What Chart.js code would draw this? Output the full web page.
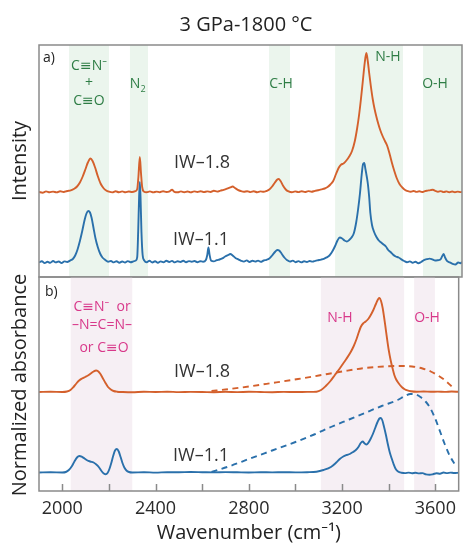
<!DOCTYPE html>
<html><head><meta charset="utf-8">
<script src="https://cdn.jsdelivr.net/npm/chart.js@4"></script>
<style>
html,body{margin:0;padding:0;background:#fff;}
#wrap{position:relative;width:463px;height:546px;overflow:hidden;}
canvas{position:absolute;left:0;top:0;}
</style></head><body>
<div id="wrap"><canvas id="ca" width="463" height="546" style="width:463px;height:546px"></canvas><canvas id="cb" width="463" height="546" style="width:463px;height:546px"></canvas></div>
<script>
// ---- axis ----
const xMin = 1900, xMax = 3700;
const tickLabels = [2000, 2400, 2800, 3200, 3600];
const minorTicks = [2000, 2200, 2400, 2600, 2800, 3000, 3200, 3400, 3600];
const yMaxA = 232, yMaxB = 214;

// ---- panel a: Raman (offset intensity, arb. units) ----
const wnA18 = [1900,1915,1930,1945,1960,1975,1990,2005,2020,2035,2050,2062,2074,2086,2098,2108,2119,2128,2138,2150,2162,2174,2186,2198,2212,2226,2240,2254,2268,2282,2296,2310,2318,2323,2329,2334,2339,2346,2358,2372,2386,2400,2414,2428,2442,2456,2466,2476,2490,2504,2518,2532,2546,2560,2574,2588,2602,2616,2630,2644,2658,2672,2686,2700,2714,2724,2734,2746,2758,2772,2786,2800,2814,2828,2842,2856,2868,2880,2892,2904,2914,2920,2928,2938,2950,2962,2976,2990,3004,3018,3032,3046,3060,3074,3088,3102,3116,3128,3140,3152,3164,3176,3186,3196,3208,3220,3232,3244,3254,3262,3270,3278,3286,3293,3299,3305,3312,3320,3328,3336,3344,3352,3362,3372,3382,3392,3402,3412,3422,3434,3446,3458,3470,3482,3494,3506,3518,3530,3542,3554,3566,3576,3586,3598,3610,3622,3634,3646,3658,3670,3682,3694,3700];
const intA18 = [85.0,84.3,85.6,84.7,85.4,84.6,85.8,85.0,86.0,86.6,88.2,90.5,94.5,100.5,108.0,114.5,118.5,116.0,110.0,101.0,93.5,89.0,86.5,85.3,84.6,85.7,84.8,85.6,84.7,85.5,85.0,85.8,88,100,120,104,90,85.5,84.8,85.6,84.6,85.4,84.8,85.8,85.0,85.7,87.3,85.2,84.7,85.6,84.8,85.5,84.6,85.6,85.0,85.8,84.9,85.6,85.0,86.2,85.4,86.4,87.2,88.3,89.6,90.5,89.0,87.2,86.0,85.2,85.8,84.9,85.7,84.8,85.6,85.2,86.0,87.4,90.5,94.5,97.5,98.0,96.0,91.5,87.5,85.6,84.8,85.6,84.9,85.8,85.0,85.9,85.2,86.2,86.8,87.6,88.5,90.0,92.5,96,103,109.5,112.5,113.5,116.5,120.5,126,136,149,162,178,196,214,224,216,204,191,178,168,160,153,147,141,136,131,123,114,106,99,93,89.5,87,85.8,85.2,86.0,85.1,85.8,85.0,85.9,86.4,86.9,87.2,86.2,85.3,85.9,84.9,85.6,84.8,85.5,84.7,85.4,84.9,85.2];

const wnA11 = [1900,1912,1924,1936,1948,1960,1972,1984,1996,2008,2020,2032,2044,2054,2064,2074,2084,2094,2102,2110,2117,2124,2132,2140,2150,2160,2170,2182,2194,2206,2218,2230,2242,2254,2266,2278,2290,2302,2312,2318,2322,2326,2329,2332,2336,2341,2348,2358,2370,2382,2394,2406,2418,2430,2442,2454,2466,2478,2490,2502,2514,2526,2538,2550,2562,2574,2586,2598,2610,2616,2621,2626,2632,2644,2656,2668,2680,2692,2704,2714,2724,2736,2748,2760,2772,2784,2796,2808,2820,2832,2844,2856,2868,2880,2892,2904,2914,2922,2932,2944,2956,2968,2980,2992,3004,3016,3028,3040,3052,3064,3076,3088,3100,3112,3124,3136,3148,3160,3170,3180,3190,3200,3210,3220,3230,3240,3250,3258,3266,3273,3279,3284,3289,3295,3300,3305,3310,3317,3326,3336,3346,3356,3366,3376,3386,3396,3406,3418,3430,3442,3454,3466,3478,3490,3502,3514,3526,3538,3550,3562,3574,3586,3598,3608,3616,3622,3628,3636,3648,3660,3672,3684,3694,3700];
const intA11 = [14.5,15.8,13.9,15.2,14.2,16.0,14.6,15.5,14.0,15.6,15.0,16.4,18.0,21.5,27.5,36,46,57,63.5,66,64.5,59,49,39,30,23.5,19.5,17.0,15.2,16.0,14.6,15.8,14.2,15.5,14.4,15.9,14.8,15.6,16.5,20,45,80,95,80,45,22,16.5,14.8,16.2,14.5,15.8,14.2,15.6,14.8,16.3,15.0,16.1,14.6,15.8,15.0,16.2,14.8,15.9,15.2,16.0,14.7,15.8,15.3,17.0,22,29.5,22,16.5,15.6,16.8,17.5,18.6,20.5,21.8,23.0,21.5,19.0,17.6,16.2,15.4,16.6,15.0,16.2,15.4,16.4,15.2,16.5,17.2,18.5,21.5,25.0,27.0,26.5,23.5,19.5,16.8,15.4,16.4,14.8,15.9,14.6,15.7,15.0,16.0,15.4,16.2,16.8,17.4,18.2,19.6,21.5,25.5,31,36.5,39.5,38.5,36.5,35.5,37.0,39.5,44,55,68,84,102,113,114,108,100,92,80,64,52,45,40,36.5,34.5,32.5,30.5,27.0,25.0,22.5,20.5,19.5,17.6,16.0,14.8,15.6,14.2,15.3,13.8,15.0,16.8,17.8,18.4,17.6,16.5,16.8,17.4,21.0,23.0,19.5,16.2,14.6,13.2,12.5,14.5,13.8,15.0];

// ---- panel b: IR (offset normalized absorbance, arb. units) ----
const wnB18 = [1900,1950,2000,2020,2035,2048,2060,2072,2085,2098,2110,2122,2134,2145,2152,2162,2172,2184,2196,2208,2220,2235,2260,2300,2350,2400,2450,2500,2550,2600,2650,2700,2750,2800,2850,2900,2950,3000,3050,3090,3110,3130,3150,3169,3185,3200,3218,3237,3250,3262,3272,3280,3290,3301,3312,3323,3334,3345,3355,3361,3367,3374,3380,3386,3393,3400,3408,3416,3424,3432,3440,3448,3458,3468,3480,3495,3520,3550,3580,3610,3640,3670,3700];
const absB18 = [99,99.2,99,99.5,101,104,107.5,110.5,112.5,114,115.5,117.5,119.5,120.5,120,117.5,113.5,108.5,104,101.5,100,99.3,99,98.8,99.2,99,99.3,98.9,99.1,99,98.8,99.1,98.9,99.2,99,98.8,99.1,99,99.1,99.3,101,105,110,116,121,126,132,139,145,152,159,164,167.5,169.5,172,176,181,187,192,193,190,183,174,164,152,141,131,123,116,111.5,108.5,106,103.5,101.8,100.6,99.8,99.3,99.5,99.2,99.4,99.1,99.5,99.2];
const wnB18fit = [2640,2700,2800,2900,3011,3100,3200,3297,3380,3440,3500,3545,3580,3615,3645,3672];
const absB18fit = [100,101.5,104.5,108,112,115.5,119.5,123,124.5,125,124.5,122.5,119.5,115,110,104];

const wnB11 = [1900,1950,2000,2015,2028,2040,2052,2063,2073,2083,2095,2108,2120,2134,2146,2158,2168,2178,2186,2194,2202,2210,2218,2226,2234,2242,2250,2258,2266,2275,2286,2300,2350,2400,2450,2500,2550,2600,2650,2700,2750,2800,2850,2900,2950,3000,3050,3090,3120,3152,3175,3190,3205,3220,3233,3247,3259,3270,3280,3288,3297,3305,3312,3322,3332,3342,3352,3360,3366,3372,3380,3388,3396,3404,3412,3420,3430,3440,3455,3470,3485,3500,3515,3530,3545,3560,3575,3590,3605,3620,3635,3650,3665,3680,3700];
const absB11 = [18.5,18.7,18.5,19,21,24.5,29.5,33.5,35,34.3,32.5,30.5,29.5,28.5,26.5,23.5,20,17.5,16.8,18,22,28,35,40.5,42,39.5,34,28,23.5,20.5,19,18.5,18.8,18.4,18.8,18.7,19,18.8,18.6,18.9,18.7,18.5,18.8,18.6,18.8,18.6,18.8,19.3,21,24,28.5,32,34.5,36,37,39,41,44,48,49.5,47.5,46.5,48,52,57,63,69,72.5,73,71,64,56,47,39,33,27.5,22,19.5,18.3,17.9,18.4,17.7,18.2,17.6,17.9,16.6,16.2,16.8,17.8,17.3,18.5,17.9,18.4,18.0,18.3];
const wnB11fit = [2640,2720,2800,2900,3000,3080,3152,3230,3297,3370,3438,3470,3493,3515,3536,3558,3578,3600,3621,3640,3660,3685];
const absB11fit = [19,25,32,40.5,49,56.5,64,71.5,78,85,91,95,97,96.5,94,89.5,83,72,59,47,36,26];

// ---- shaded assignment bands ----
const bandsA = [[2028,2198],[2287,2364],[2879,2968],[3160,3449],[3534,3700]];
const bandsB = [[2036,2300],[3109,3466],[3509,3598]];

const ORANGE = '#d4602c', BLUE = '#2a70ab';
const FONT = '"Open Sans","Noto Sans","DejaVu Sans",sans-serif';
const pts = (xs, ys) => xs.map((x, i) => ({x, y: ys[i]}));

function text(ctx, s, x, y, size, color, align) {
  ctx.save();
  ctx.font = size + 'px ' + FONT;
  ctx.fillStyle = color;
  ctx.textAlign = align || 'center';
  ctx.textBaseline = 'middle';
  ctx.fillText(s, x, y);
  ctx.restore();
}
function vtext(ctx, s, x, y, size, color) {
  ctx.save();
  ctx.translate(x, y);
  ctx.rotate(-Math.PI / 2);
  ctx.font = size + 'px ' + FONT;
  ctx.fillStyle = color;
  ctx.textAlign = 'center';
  ctx.textBaseline = 'middle';
  ctx.fillText(s, 0, 0);
  ctx.restore();
}
function bandPlugin(bands, color) {
  return {
    id: 'bands',
    beforeDatasetsDraw(chart) {
      const {ctx, chartArea: a, scales: {x}} = chart;
      ctx.save();
      ctx.fillStyle = color;
      bands.forEach(([b0, b1]) => {
        const x0 = Math.max(a.left, x.getPixelForValue(b0));
        const x1 = Math.min(a.right, x.getPixelForValue(b1));
        ctx.fillRect(x0, a.top, x1 - x0, a.bottom - a.top);
      });
      ctx.restore();
    }
  };
}
const lineDs = (data, color, dash) => ({
  data, borderColor: color, borderWidth: 1.9, pointRadius: 0,
  cubicInterpolationMode: 'monotone', borderDash: dash || [], fill: false
});

const GREEN = '#2e7d45', MAG = '#d8388a', DARK = '#333333', FRAME = '#8a8a8a';

new Chart(document.getElementById('ca'), {
  type: 'line',
  data: { datasets: [lineDs(pts(wnA18, intA18), ORANGE), lineDs(pts(wnA11, intA11), BLUE)] },
  options: {
    responsive: false, animation: false, devicePixelRatio: 1,
    layout: { padding: { left: 39, right: 1, top: 45, bottom: 269 } },
    plugins: { legend: { display: false }, tooltip: { enabled: false } },
    scales: {
      x: { type: 'linear', min: xMin, max: xMax, display: false },
      y: { min: 0, max: yMaxA, display: false }
    }
  },
  plugins: [bandPlugin(bandsA, '#ebf5ed'), {
    id: 'decoA',
    afterDraw(chart) {
      const {ctx, chartArea: a} = chart;
      ctx.save();
      ctx.strokeStyle = FRAME; ctx.lineWidth = 1.5;
      ctx.strokeRect(a.left, a.top, a.right - a.left, a.bottom - a.top);
      ctx.restore();
      text(ctx, '3 GPa-1800 °C', 246, 25, 20, '#222');
      vtext(ctx, 'Intensity', 20, 161, 20, '#222');
      text(ctx, 'a)', 43, 58, 14, '#222', 'left');
      text(ctx, 'C≡N⁻', 89, 66, 14, GREEN);
      text(ctx, '+', 89, 83, 14, GREEN);
      text(ctx, 'C≡O', 89, 101, 14, GREEN);
      text(ctx, 'N', 135, 84, 14, GREEN);
      text(ctx, '2', 143, 89, 9, GREEN);
      text(ctx, 'C-H', 281, 84, 14, GREEN);
      text(ctx, 'N-H', 388, 57, 14, GREEN);
      text(ctx, 'O-H', 435, 84, 14, GREEN);
      text(ctx, 'IW–1.8', 202, 163, 18, DARK);
      text(ctx, 'IW–1.1', 201, 240, 18, DARK);
    }
  }]
});

new Chart(document.getElementById('cb'), {
  type: 'line',
  data: { datasets: [
    lineDs(pts(wnB18, absB18), ORANGE),
    lineDs(pts(wnB18fit, absB18fit), ORANGE, [6, 4.5]),
    lineDs(pts(wnB11, absB11), BLUE),
    lineDs(pts(wnB11fit, absB11fit), BLUE, [6, 4.5])
  ] },
  options: {
    responsive: false, animation: false, devicePixelRatio: 1,
    layout: { padding: { left: 39, right: 1, top: 277, bottom: 0 } },
    plugins: { legend: { display: false }, tooltip: { enabled: false } },
    scales: {
      x: {
        type: 'linear', min: xMin, max: xMax, position: 'bottom',
        afterBuildTicks: s => { s.ticks = tickLabels.map(v => ({value: v})); },
        afterFit: s => { s.height = 55; },
        grid: { display: false, drawTicks: false }, border: { display: false },
        ticks: { font: { family: FONT, size: 18 }, color: '#2a2a2a', padding: 7, maxRotation: 0, autoSkip: false, callback: v => String(v) },
        title: { display: true, text: 'Wavenumber (cm⁻¹)', font: { family: FONT, size: 20 }, color: '#222', padding: { top: 0, bottom: 1 } }
      },
      y: { min: 0, max: yMaxB, display: false }
    }
  },
  plugins: [bandPlugin(bandsB, '#f6eff4'), {
    id: 'decoB',
    afterDraw(chart) {
      const {ctx, chartArea: a, scales: {x}} = chart;
      ctx.save();
      ctx.strokeStyle = FRAME; ctx.lineWidth = 1.5;
      ctx.strokeRect(a.left, a.top, a.right - a.left, a.bottom - a.top);
      ctx.beginPath();
      minorTicks.forEach(v => {
        const px = Math.round(x.getPixelForValue(v)) + 0.5;
        ctx.moveTo(px, a.bottom); ctx.lineTo(px, a.bottom - 7);
      });
      ctx.stroke();
      ctx.restore();
      vtext(ctx, 'Normalized absorbance', 20, 385, 20, '#222');
      text(ctx, 'b)', 45, 292, 14, '#222', 'left');
      text(ctx, 'C≡N⁻  or', 102, 307, 14, MAG);
      text(ctx, '–N=C=N–', 102, 325, 14, MAG);
      text(ctx, 'or C≡O', 104, 348, 14, MAG);
      text(ctx, 'N-H', 340, 318, 14, MAG);
      text(ctx, 'O-H', 427, 318, 14, MAG);
      text(ctx, 'IW–1.8', 202, 372, 18, DARK);
      text(ctx, 'IW–1.1', 201, 456, 18, DARK);
    }
  }]
});
</script>
</body></html>
